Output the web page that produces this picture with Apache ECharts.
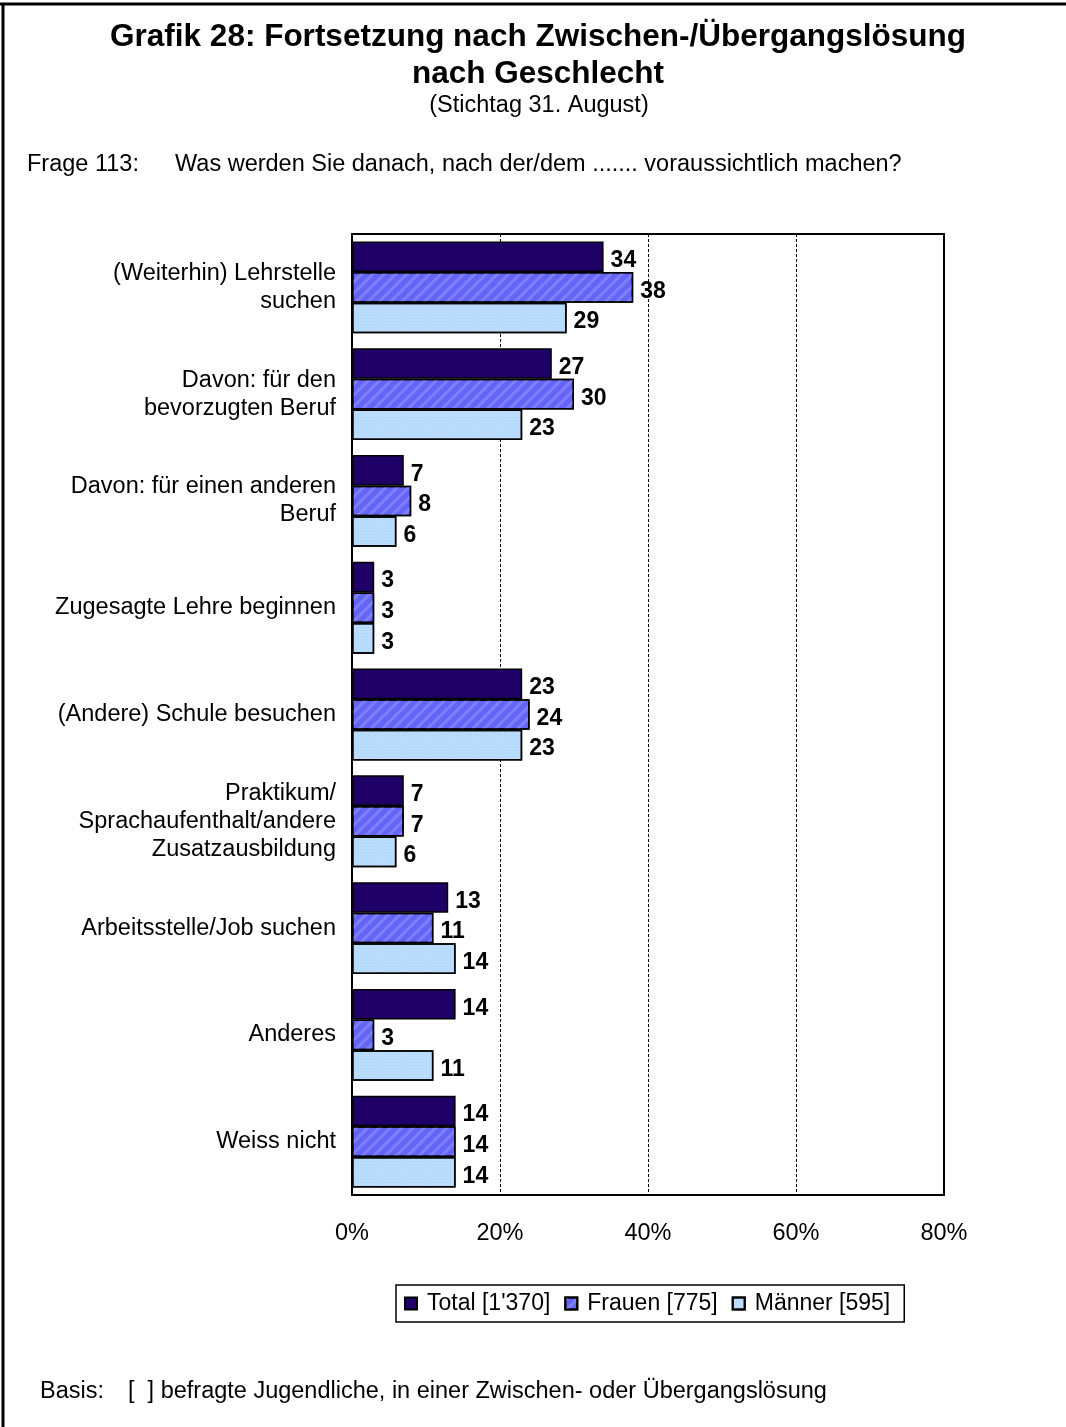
<!DOCTYPE html>
<html>
<head>
<meta charset="utf-8">
<script src="https://cdn.jsdelivr.net/npm/echarts@6/dist/echarts.min.js"></script>
<style>
html,body{margin:0;padding:0;background:#fff;}
#chart{width:1066px;height:1427px;}
</style>
</head>
<body>
<div id="chart"></div>
<script>
const categories = [
  '(Weiterhin) Lehrstelle\nsuchen',
  'Davon: für den\nbevorzugten Beruf',
  'Davon: für einen anderen\nBeruf',
  'Zugesagte Lehre beginnen',
  '(Andere) Schule besuchen',
  'Praktikum/\nSprachaufenthalt/andere\nZusatzausbildung',
  'Arbeitsstelle/Job suchen',
  'Anderes',
  'Weiss nicht'
];
const seriesNames = ["Total [1'370]", 'Frauen [775]', 'Männer [595]'];
const totalValues = [34, 27, 7, 3, 23, 7, 13, 14, 14];
const frauenValues = [38, 30, 8, 3, 24, 7, 11, 3, 14];
const maennerValues = [29, 23, 6, 3, 23, 6, 14, 11, 14];
const xTicks = [0, 20, 40, 60, 80];

const FONT = '"Liberation Sans", Arial, sans-serif';
const FS = 23.5;

const chart = echarts.init(document.getElementById('chart'), null, {renderer: 'canvas'});

const labelCfg = {
  show: true,
  position: 'right',
  distance: 7,
  offset: [0, 4],
  color: '#000',
  fontFamily: FONT,
  fontWeight: 'bold',
  fontSize: 23
};

const option = {
  backgroundColor: '#fff',
  animation: false,
  title: [
    {
      text: 'Grafik 28: Fortsetzung nach Zwischen-/Übergangslösung\nnach Geschlecht',
      left: 533, top: 14, textAlign: 'center',
      textStyle: {fontFamily: FONT, fontWeight: 'bold', fontSize: 31.5, lineHeight: 37, color: '#000'}
    },
    {
      text: '(Stichtag 31. August)',
      left: 534, top: 89, textAlign: 'center',
      textStyle: {fontFamily: FONT, fontWeight: 'normal', fontSize: FS, color: '#000'}
    },
    {
      text: 'Frage 113:',
      left: 22, top: 148,
      textStyle: {fontFamily: FONT, fontWeight: 'normal', fontSize: FS, color: '#000'}
    },
    {
      text: 'Was werden Sie danach, nach der/dem ....... voraussichtlich machen?',
      left: 170, top: 148,
      textStyle: {fontFamily: FONT, fontWeight: 'normal', fontSize: FS, color: '#000'}
    },
    {
      text: 'Basis:',
      left: 35, top: 1375,
      textStyle: {fontFamily: FONT, fontWeight: 'normal', fontSize: FS, color: '#000'}
    },
    {
      text: '[  ] befragte Jugendliche, in einer Zwischen- oder Übergangslösung',
      left: 123, top: 1375,
      textStyle: {fontFamily: FONT, fontWeight: 'normal', fontSize: FS, color: '#000'}
    }
  ],
  graphic: [
    {type: 'line', shape: {x1: 0, y1: 4, x2: 1066, y2: 4}, style: {stroke: '#000', lineWidth: 3}},
    {type: 'line', shape: {x1: 3, y1: 3, x2: 3, y2: 1427}, style: {stroke: '#000', lineWidth: 3}}
  ],
  legend: {
    data: seriesNames,
    left: 396, top: 1285,
    orient: 'horizontal',
    icon: 'rect',
    itemWidth: 12, itemHeight: 12,
    itemGap: 14,
    padding: [7, 14, 7, 8],
    borderColor: '#000', borderWidth: 1.5,
    textStyle: {fontFamily: FONT, fontSize: 23, color: '#000', padding: [0, 0, 0, 5]}
  },
  grid: {
    left: 352, right: 122, top: 234, bottom: 232,
    show: true, borderColor: '#000', borderWidth: 2, backgroundColor: 'transparent'
  },
  xAxis: {
    type: 'value', min: xTicks[0], max: xTicks[xTicks.length - 1], interval: 20,
    axisLine: {show: false},
    axisTick: {show: false},
    splitLine: {show: true, lineStyle: {color: '#000', type: [3, 2], width: 1}},
    axisLabel: {
      formatter: '{value}%', margin: 27,
      fontFamily: FONT, fontSize: FS, color: '#000'
    }
  },
  yAxis: {
    type: 'category', data: categories, inverse: true,
    axisLine: {show: false},
    axisTick: {show: false},
    splitLine: {show: false},
    axisLabel: {
      margin: 16, fontFamily: FONT, fontSize: FS, lineHeight: 28, color: '#000', align: 'right'
    }
  },
  series: [
    {
      name: seriesNames[0], type: 'bar', data: totalValues,
      barGap: '0%', barCategoryGap: '14%',
      itemStyle: {color: '#1E0066', borderColor: '#000', borderWidth: 1.5},
      label: labelCfg
    },
    {
      name: seriesNames[1], type: 'bar', data: frauenValues,
      barGap: '0%', barCategoryGap: '14%',
      itemStyle: {
        color: '#6464F6', borderColor: '#000', borderWidth: 1.5,
        decal: {symbol: 'rect', color: 'rgba(150,150,255,0.55)', dashArrayX: [1, 0], dashArrayY: [3, 5], rotation: -Math.PI / 4, symbolSize: 1}
      },
      label: labelCfg
    },
    {
      name: seriesNames[2], type: 'bar', data: maennerValues,
      barGap: '0%', barCategoryGap: '14%',
      itemStyle: {
        color: '#BADCFF', borderColor: '#000', borderWidth: 1.5,
        decal: {symbol: 'rect', color: 'rgba(165,205,245,0.6)', dashArrayX: [[1, 2]], dashArrayY: [1, 2], symbolSize: 1}
      },
      label: labelCfg
    }
  ]
};
chart.setOption(option);
</script>
</body>
</html>
